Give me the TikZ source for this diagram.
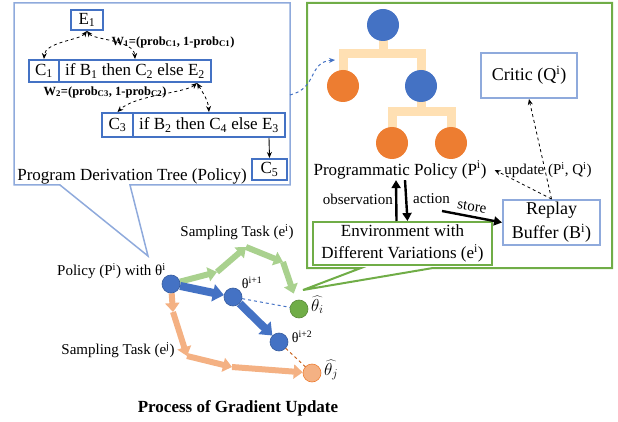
\documentclass[tikz,border=0pt]{standalone}
\usepackage{fontspec}
\setmainfont{Liberation Serif}
\usetikzlibrary{arrows.meta}
\definecolor{oblue}{HTML}{4472C4}
\definecolor{oorange}{HTML}{ED7D31}
\definecolor{ogreen}{HTML}{70AD47}
\definecolor{lblue}{HTML}{8FAADC}
\definecolor{lgreen}{HTML}{A9D18E}
\definecolor{lorange}{HTML}{F4B183}
\definecolor{barcol}{HTML}{FFE0B3}
\definecolor{dorange}{HTML}{C55A11}
\newcommand{\fsz}[2]{\fontsize{#1}{#2}\selectfont}
\pgfdeclarelayer{bg}
\pgfsetlayers{bg,main}
\tikzset{
  treebox/.style={draw=oblue, line width=2pt, inner sep=0pt, font=\fsz{17}{20}},
  rbox/.style={draw=lblue, line width=2pt, inner sep=0pt, align=center},
  treecirc/.style={circle, minimum size=32pt, inner sep=0pt},
  bar/.style={draw=barcol, line width=9pt, line join=miter},
  dot/.style={circle, minimum size=18pt, inner sep=0pt, fill=oblue, draw=oblue!80!black, line width=0.6pt},
  dasharr/.style={dashed, line width=0.8pt, -{Stealth[length=6pt,width=5pt]}},
  dbarr/.style={dashed, line width=0.8pt, {Stealth[length=6pt,width=5pt]}-{Stealth[length=6pt,width=5pt]}},
  thickarr/.style={line width=2.4pt, -{Triangle[length=8pt,width=9pt]}},
  fatg/.style={draw=lgreen, line width=6pt, -{Triangle[width=14pt,length=9pt]}},
  fato/.style={draw=lorange, line width=6pt, -{Triangle[width=14pt,length=9pt]}},
  fatb/.style={draw=oblue, line width=8pt, -{Triangle[width=17pt,length=11pt]}},
  lbl/.style={font=\fsz{15}{18}, inner sep=0pt},
  wlbl/.style={font=\fsz{12.5}{15}\bfseries, inner sep=0pt},
}
\begin{document}
\begin{tikzpicture}[x=1pt,y=-1pt]
\useasboundingbox (0,0) rectangle (618,422);

% ---- left callout ----
\draw[draw=lblue, line width=1.5pt] (14,3) -- (290,3) -- (290,185) -- (130,185) -- (148,256) -- (60,185) -- (14,185) -- cycle;

\node[treebox, minimum width=32pt, minimum height=20pt] (e1) at (87,20) {E\textsubscript{1}};
\node[treebox, minimum width=30pt, minimum height=22pt] (c1) at (44,71) {C\textsubscript{1}};
\node[treebox, minimum width=152pt, minimum height=22pt] (if1) at (135,71) {if B\textsubscript{1} then C\textsubscript{2} else E\textsubscript{2}};
\node[treebox, minimum width=31pt, minimum height=24pt] (c3) at (117.5,125) {C\textsubscript{3}};
\node[treebox, minimum width=152pt, minimum height=24pt] (if2) at (209,125) {if B\textsubscript{2} then C\textsubscript{4} else E\textsubscript{3}};
\node[treebox, minimum width=35pt, minimum height=21pt] (c5) at (269.5,169.5) {C\textsubscript{5}};

\node[font=\fsz{17}{20}, inner sep=0pt] (pdt) at (132,176) {Program Derivation Tree (Policy)};

\draw[dbarr] (e1.south) .. controls (80,40) and (45,42) .. (c1.north);
\draw[dbarr] (e1.south) .. controls (94,40) and (134,40) .. (if1.north);
\draw[dbarr] ([xshift=62pt]if1.south) .. controls (185,93) and (135,95) .. (c3.north);
\draw[dbarr] ([xshift=62pt]if1.south) .. controls (203,93) and (208,100) .. (if2.north);
\draw[line width=0.9pt, -{Stealth[length=6pt,width=5pt]}] ([xshift=60pt]if2.south) -- (c5.north);

\node[wlbl] (w1) at (173,42) {W\textsubscript{1}=(prob\textsubscript{C1}, 1-prob\textsubscript{C1})};
\node[wlbl] (w2) at (105,92) {W\textsubscript{2}=(prob\textsubscript{C3}, 1-prob\textsubscript{C2})};

% ---- right callout ----
\draw[draw=ogreen, line width=2pt] (307,3) -- (612,3) -- (612,268) -- (433,268) -- (303,290) -- (361,268) -- (307,268) -- cycle;

\node[treecirc, fill=oblue] (r) at (383,25) {};
\node[treecirc, fill=oorange] (lc) at (343,86) {};
\node[treecirc, fill=oblue] (rc) at (421,86) {};
\node[treecirc, fill=oorange] (gl) at (392,143) {};
\node[treecirc, fill=oorange] (gr) at (451,143) {};
\coordinate (b1) at (383,54);
\coordinate (b2) at (421,112);
\begin{pgfonlayer}{bg}
\draw[bar] (r.center) -- (b1) -| (lc.center);
\draw[bar] (b1) -| (rc.center);
\draw[bar] (rc.center) -- (b2) -| (gl.center);
\draw[bar] (b2) -| (gr.center);
\end{pgfonlayer}

\node[font=\fsz{17}{20}, inner sep=1pt] (pp) at (400,170) {Programmatic Policy (P\textsuperscript{i})};
\node[rbox, minimum width=96pt, minimum height=45pt, font=\fsz{18}{22}] (cr) at (529,75.5) {Critic (Q\textsuperscript{i})};
\node[rbox, minimum width=97pt, minimum height=45pt, font=\fsz{18}{24}] (rb) at (551.5,222.5) {Replay\\Buffer (B\textsuperscript{i})};
\node[draw=ogreen, line width=2pt, inner sep=0pt, align=center, minimum width=179pt, minimum height=43pt, font=\fsz{17}{22}] (env) at (402.5,243.5) {Environment with\\Different Variations (e\textsuperscript{i})};

\draw[thickarr] ([xshift=-6pt]env.north) -- ([xshift=-4pt]pp.south);
\draw[thickarr] ([xshift=5pt]pp.south) -- ([xshift=5pt]env.north);
\node[lbl, anchor=east] (obs) at (393,199) {observation};
\node[lbl, anchor=west] (act) at (413,199) {action};
\coordinate (st) at (442,211);
\draw[thickarr] (st) -- (rb.west);
\node[lbl, rotate=-8.5] (sto) at (472,207) {store};

\draw[dasharr] (rb.north) -- (cr.south);
\draw[dasharr] (rb.north) -- ([xshift=7pt]pp.east);
\node[lbl] (upd) at (548,170) {update (P\textsuperscript{i}, Q\textsuperscript{i})};

\coordinate (cs) at (290,95);
\coordinate (ce) at (335,60);
\draw[oblue, dashed, line width=1pt, -{Stealth[length=6pt,width=5pt]}] (cs) .. controls (318,88) and (308,62) .. (ce);

% ---- gradient process ----
\node[dot] (ti) at (171,284) {};
\node[dot] (ti1) at (233,297) {};
\node[dot] (ti2) at (279,342) {};
\node[dot, fill=ogreen, draw=ogreen!80!black] (thi) at (299,309) {};
\node[dot, fill=lorange, draw=oorange] (thj) at (312,373) {};

\coordinate (g1) at (217,272);
\coordinate (g2) at (246,247);
\coordinate (g3) at (283,262);
\coordinate (o1) at (173,312);
\coordinate (o2) at (187,356);
\coordinate (o3) at (232,367);
\begin{pgfonlayer}{bg}
\draw[fatg] (ti) -- (g1);
\draw[fatg] (g1) -- (g2);
\draw[fatg] (g2) -- (g3);
\draw[fatg, shorten >=7pt] (g3) -- (thi);
\draw[fato] (ti) -- (o1);
\draw[fato] (o1) -- (o2);
\draw[fato] (o2) -- (o3);
\draw[fato] (o3) -- (thj);
\draw[fatb] (ti) -- (ti1);
\draw[fatb] (ti1) -- (ti2);
\end{pgfonlayer}
\draw[oblue, dashed, line width=1pt] (ti1) -- (thi);
\draw[dorange, dashed, line width=1pt] (ti2) -- (thj);

\node[lbl, anchor=east] (pol) at (166,271) {Policy (P\textsuperscript{i}) with θ\textsuperscript{i}};
\node[lbl] (sti) at (237,232) {Sampling Task (e\textsuperscript{i})};
\node[lbl] (stj) at (118,350) {Sampling Task (e\textsuperscript{j})};
\node[lbl, font=\fsz{14}{16}] (l1) at (252,283) {θ\textsuperscript{i+1}};
\node[lbl, font=\fsz{14}{16}] (l2) at (302,337) {θ\textsuperscript{i+2}};
\node[lbl, font=\fsz{17}{20}, anchor=west] (lhi) at (311,305) {$\widehat{\theta_i}$};
\node[lbl, font=\fsz{17}{20}, anchor=west] (lhj) at (324,370) {$\widehat{\theta_j}$};

\node[font=\fsz{17}{20}\bfseries, inner sep=0pt] (title) at (238,408) {Process of Gradient Update};
\end{tikzpicture}
\end{document}
